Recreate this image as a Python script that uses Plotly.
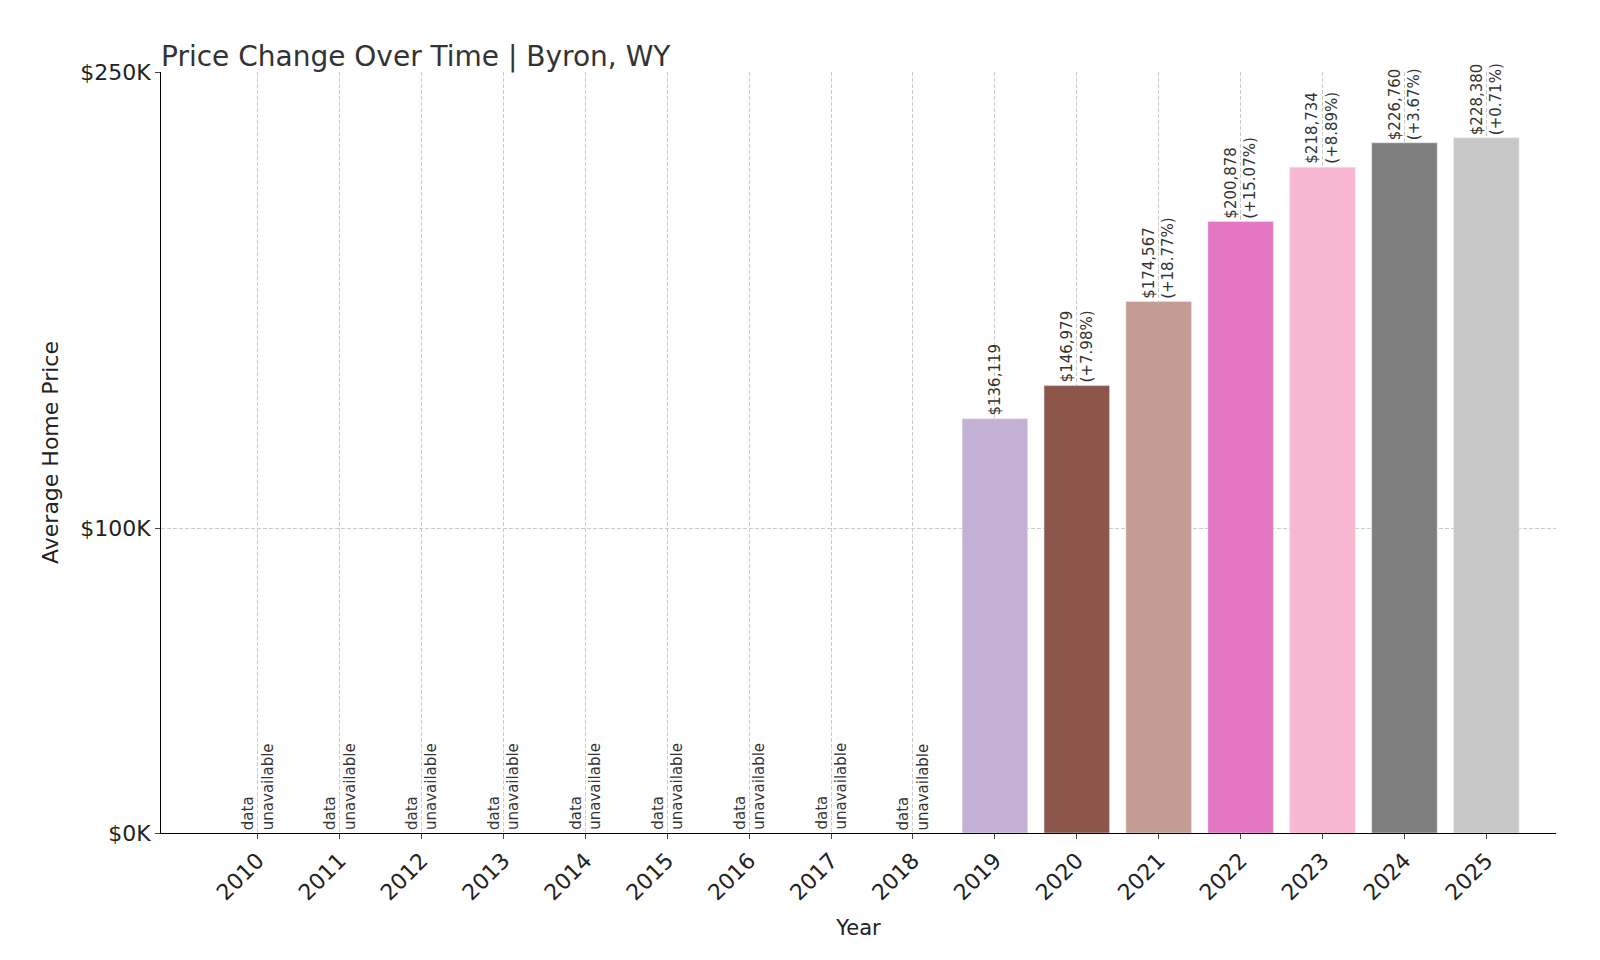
import plotly.graph_objects as go

years = list(range(2010, 2026))
prices = [None]*9 + [136119, 146979, 174567, 200878, 218734, 226760, 228380]
changes = [None]*10 + ["+7.98%", "+18.77%", "+15.07%", "+8.89%", "+3.67%", "+0.71%"]
colors = ["#c5b0d5", "#8c564b", "#c49c94", "#e377c2", "#f7b6d2", "#7f7f7f", "#c7c7c7"]
tickvals = [0, 100000, 250000]
ticktext = ["$0K", "$100K", "$250K"]

bx = [y for y, p in zip(years, prices) if p is not None]
by = [p for p in prices if p is not None]
fig = go.Figure(go.Bar(x=bx, y=by, marker_color=colors, width=0.8, hoverinfo="skip"))

for y, p, c in zip(years, prices, changes):
    if p is None:
        t, yy = "data<br>unavailable", 0
    else:
        t = f"${p:,}" + (f"<br>({c})" if c else "")
        yy = p
    fig.add_annotation(x=y, y=yy, text=t, textangle=-90, showarrow=False,
                       yanchor="bottom", xanchor="center", yshift=1,
                       font=dict(size=15, color="#333"), align="left")

fig.update_layout(
    width=1600, height=960, plot_bgcolor="white", paper_bgcolor="white",
    font=dict(family="DejaVu Sans", color="#222"),
    margin=dict(l=153, r=52, t=64, b=135),
    title=dict(text="Price Change Over Time | Byron, WY", x=153/1600, xanchor="left",
               y=0.96, font=dict(size=28, color="#333")),
    showlegend=False,
    xaxis=dict(range=[2008.82, 2025.85], tickvals=years, ticktext=[str(y) for y in years],
               tickangle=-45, tickfont=dict(size=22), title=dict(text="Year", font=dict(size=21)),
               showgrid=True, gridcolor="#ccc", griddash="4px,2px", zeroline=False,
               showline=True, linecolor="black", ticks="outside"),
    yaxis=dict(range=[0, 250000], tickvals=tickvals, ticktext=ticktext, tickfont=dict(size=22),
               title=dict(text="Average Home Price", font=dict(size=22)),
               showgrid=True, gridcolor="#ccc", griddash="4px,2px", zeroline=False,
               showline=True, linecolor="black", ticks="outside"),
)
fig.write_html("out.html")
